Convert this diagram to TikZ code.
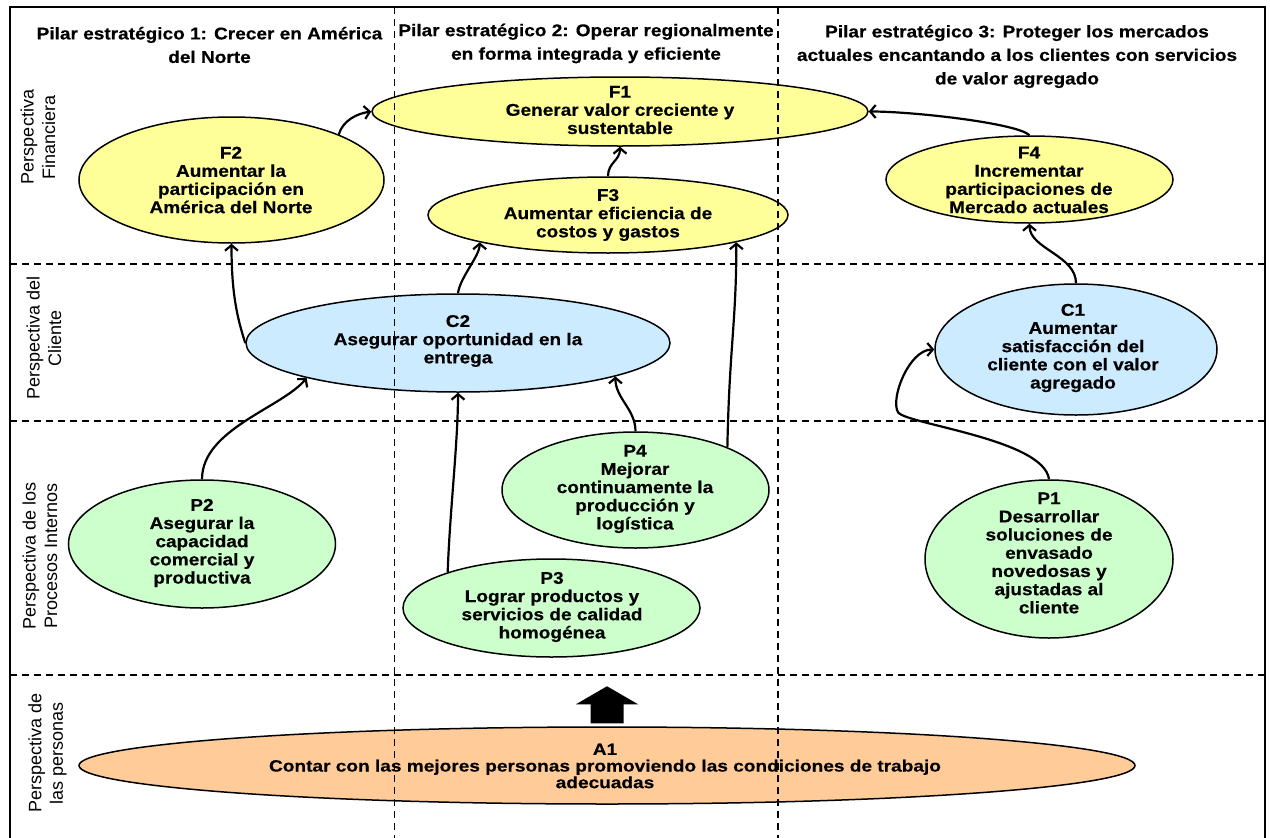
\documentclass[tikz,border=0pt]{standalone}
\usepackage{fontspec}
\setmainfont{Liberation Sans}
\newfontfamily\wideb[FakeStretch=1.12,FakeBold=0.5]{Liberation Sans}
\newfontfamily\widerb[FakeStretch=1.17,FakeBold=0.5]{Liberation Sans}
\usetikzlibrary{shapes.geometric,arrows.meta,calc}
\definecolor{fyel}{HTML}{FFFF99}
\definecolor{fblu}{HTML}{CCEBFF}
\definecolor{fgrn}{HTML}{CCFFCC}
\definecolor{forg}{HTML}{FFCC99}
\begin{document}
\begin{tikzpicture}[x=1pt,y=-1pt,
  ell/.style={ellipse, draw=black, line width=1.5pt, inner sep=0pt},
  etext/.style={align=center, inner sep=0pt, font=\wideb\bfseries\fontsize{17}{18.2}\selectfont},
  head/.style={align=center, inner sep=0pt, font=\wideb\bfseries\fontsize{17}{23.5}\selectfont},
  side/.style={align=center, inner sep=0pt, rotate=90, font=\fontsize{18}{21.5}\selectfont},
  grid/.style={line width=1.4pt, dash pattern=on 7pt off 5pt},
  conn/.style={line width=2.2pt, -{Straight Barb[length=5.5pt,width=13pt]}}]
\useasboundingbox (0,0) rectangle (1270,838);
% frame
\draw[line width=2pt] (10,845) -- (10,7) -- (1265,7) -- (1265,845);
% headers
\node[head] (H1) at (209.5,45) {Pilar estratégico 1: Crecer en América\\del Norte};
\node[head] (H2) at (586,43.5) {Pilar estratégico 2: Operar regionalmente\\en forma integrada y eficiente};
\node[head] (H3) at (1017,56.5) {Pilar estratégico 3: Proteger los mercados\\actuales encantando a los clientes con servicios\\de valor agregado};
% side labels
\node[side] (S1) at (38,137) {Perspectiva\\Financiera};
\node[side] (S2) at (44,338) {Perspectiva del\\Cliente};
\node[side] (S3) at (40,556) {Perspectiva de los\\Procesos Internos};
\node[side] (S4) at (47.5,753) {Perspectiva de\\las personas};
% ellipses
\node[ell, fill=fyel, minimum width=496pt, minimum height=69pt] (F1) at (620,111.5) {};
\node[ell, fill=fyel, minimum width=305pt, minimum height=126pt] (F2) at (231.5,180) {};
\node[ell, fill=fyel, minimum width=360pt, minimum height=76pt] (F3) at (608,215) {};
\node[ell, fill=fyel, minimum width=287pt, minimum height=87pt] (F4) at (1029.5,179.5) {};
\node[ell, fill=fblu, minimum width=424pt, minimum height=98pt] (C2) at (458,343) {};
\node[ell, fill=fblu, minimum width=282pt, minimum height=131pt] (C1) at (1076,349.5) {};
\node[ell, fill=fgrn, minimum width=267pt, minimum height=128pt] (P2) at (202,544) {};
\node[ell, fill=fgrn, minimum width=267pt, minimum height=116pt] (P4) at (635.5,490) {};
\node[ell, fill=fgrn, minimum width=297pt, minimum height=98pt] (P3) at (551.5,608) {};
\node[ell, fill=fgrn, minimum width=248pt, minimum height=158pt] (P1) at (1049,559) {};
\node[ell, fill=forg, minimum width=1056pt, minimum height=77pt] (A1) at (607,765.5) {};
% texts
\node[etext] (F1t) at (620,110) {F1\\Generar valor creciente y\\sustentable};
\node[etext] (F2t) at (231,180) {F2\\Aumentar la\\participación en\\América del Norte};
\node[etext] (F3t) at (608,215) {F3\\Aumentar eficiencia de\\costos y gastos};
\node[etext] (F4t) at (1029,180) {F4\\Incrementar\\participaciones de\\Mercado actuales};
\node[etext] (C2t) at (458,341) {C2\\Asegurar oportunidad en la\\entrega};
\node[etext] (C1t) at (1073,348) {C1\\Aumentar\\satisfacción del\\cliente con el valor\\agregado};
\node[etext] (P2t) at (202,543) {P2\\Asegurar la\\capacidad\\comercial y\\productiva};
\node[etext] (P4t) at (635,489) {P4\\Mejorar\\continuamente la\\producción y\\logística};
\node[etext] (P3t) at (552,607) {P3\\Lograr productos y\\servicios de calidad\\homogénea};
\node[etext] (P1t) at (1049,553) {P1\\Desarrollar\\soluciones de\\envasado\\novedosas y\\ajustadas al\\cliente};
\node[align=center, inner sep=0pt, font=\widerb\bfseries\fontsize{16.3}{16.6}\selectfont] (A1t) at (605,766) {A1\\Contar con las mejores personas promoviendo las condiciones de trabajo\\adecuadas};
% grid
\draw[grid] (10,264) -- (1265,264);
\draw[grid] (10,421) -- (1265,421);
\draw[grid] (10,675) -- (1265,675);
\draw[grid] (394.5,7) -- (394.5,845);
\draw[grid] (778,7) -- (778,845);
% block arrow
\fill ($(A1.north)+(-16.5,-3)$) -- ++(0,-19) -- ++(-14.5,0) -- ++(31,-18) -- ++(31,18) -- ++(-14.5,0) -- ++(0,19) -- cycle;
% connectors
\draw[conn] (F2.23) .. controls +(4,-14) and +(-14,2) .. (F1.west);
\draw[conn] (F3.north) .. controls +(0,-14) and +(0,14) .. (F1.south);
\draw[conn] (F4.north) .. controls +(-12,-12) and +(45,0) .. (F1.east);
\draw[conn] (C2.west) .. controls +(-8,-25) and +(0,50) .. (F2.south);
\draw[conn] (C2.north) .. controls +(2,-16) and +(0,14) .. (F3.192);
\draw[conn] (P4.25) .. controls +(2,-100) and +(0,80) .. (F3.-12);
\draw[conn] (P2.north) .. controls +(0,-50) and +(-25,30) .. (C2.193);
\draw[conn] (P3.161) .. controls +(2,-60) and +(0,50) .. (C2.south);
\draw[conn] (P4.north) .. controls +(0,-22) and +(0,22) .. (C2.-12);
\draw[conn] (C1.north) .. controls +(0,-28) and +(0,25) .. (F4.south);
\draw[conn] (P1.north) .. controls +(-5,-40) and +(8,12) .. ++(-151,-67) .. controls +(-8,-14) and +(-25,0) .. (C1.west);
\end{tikzpicture}
\end{document}
